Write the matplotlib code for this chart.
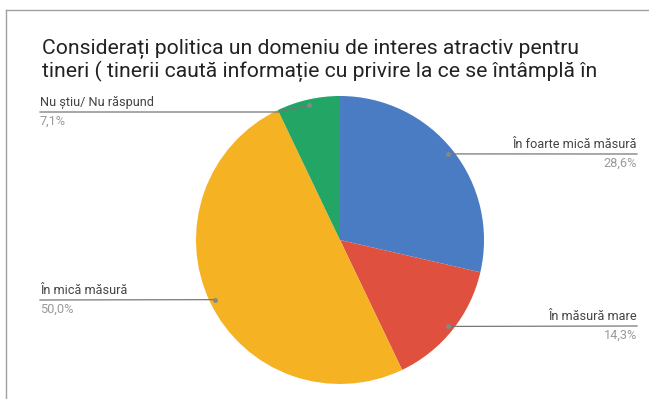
import numpy as np
import matplotlib.pyplot as plt
from matplotlib.lines import Line2D

plt.rcParams['font.family'] = ['Roboto', 'DejaVu Sans']

title_lines = ['Considerați politica un domeniu de interes atractiv pentru',
               'tineri ( tinerii caută informație cu privire la ce se întâmplă în']
labels = ['În foarte mică măsură', 'În măsură mare', 'În mică măsură', 'Nu știu/ Nu răspund']
values = [28.6, 14.3, 50.0, 7.1]
pct_labels = ['28,6%', '14,3%', '50,0%', '7,1%']
colors = ['#4a7cc3', '#e0503f', '#f5b324', '#22a565']

W, H = 649, 399
fig = plt.figure(figsize=(W / 100, H / 100), dpi=100)

# pie centred at (340, 240) px, radius 144 px
cx, cy, R = 340, 240, 144
ax = fig.add_axes([(cx - R) / W, (H - cy - R) / H, 2 * R / W, 2 * R / H])
ax.pie(values, colors=colors, startangle=90, counterclock=False, radius=1,
       wedgeprops=dict(linewidth=0))
ax.set_xlim(-1, 1)
ax.set_ylim(-1, 1)
ax.set_aspect('equal')
ax.axis('off')

def px(x):
    return (x - cx) / R

def py(y):
    return (cy - y) / R

# label line y (px) and side for each slice
label_y = [154, 326, 300, 112]
sides = ['right', 'right', 'left', 'left']

total = sum(values)
start = 90.0
for i, v in enumerate(values):
    mid = np.deg2rad(start - v / total * 360 / 2)
    start -= v / total * 360
    dx, dy = 0.96 * np.cos(mid), 0.96 * np.sin(mid)
    ly = py(label_y[i])
    right = sides[i] == 'right'
    end = px(637) if right else px(40)
    xs, ys = [dx, end], [dy, ly]
    if abs(dy - ly) > 0.02:
        knee = dx + 0.2 if right else dx - 0.22
        xs, ys = [dx, knee, end], [dy, ly, ly]
    ax.plot(xs, ys, color='#777777', lw=0.9, clip_on=False)
    ha = 'right' if right else 'left'
    ax.text(end, ly + 0.022, labels[i], ha=ha, va='bottom', fontsize=9.2, color='#444444')
    ax.text(end, ly - 0.022, pct_labels[i], ha=ha, va='top', fontsize=9.2, color='#9a9a9a')
    ax.plot([dx], [dy], 'o', color='#888888', ms=2.5, clip_on=False)

# title
fig.text(42 / W, 1 - 54 / H, title_lines[0], ha='left', va='baseline', fontsize=15.2, color='#222222')
fig.text(42 / W, 1 - 77 / H, title_lines[1], ha='left', va='baseline', fontsize=15.2, color='#222222')

# frame edges
fig.add_artist(Line2D([6 / W, 1], [1 - 10 / H, 1 - 10 / H], color='#a0a0a0', lw=1))
fig.add_artist(Line2D([6 / W, 6 / W], [0, 1 - 10 / H], color='#a0a0a0', lw=1))

fig.savefig('out.png', dpi=100)
